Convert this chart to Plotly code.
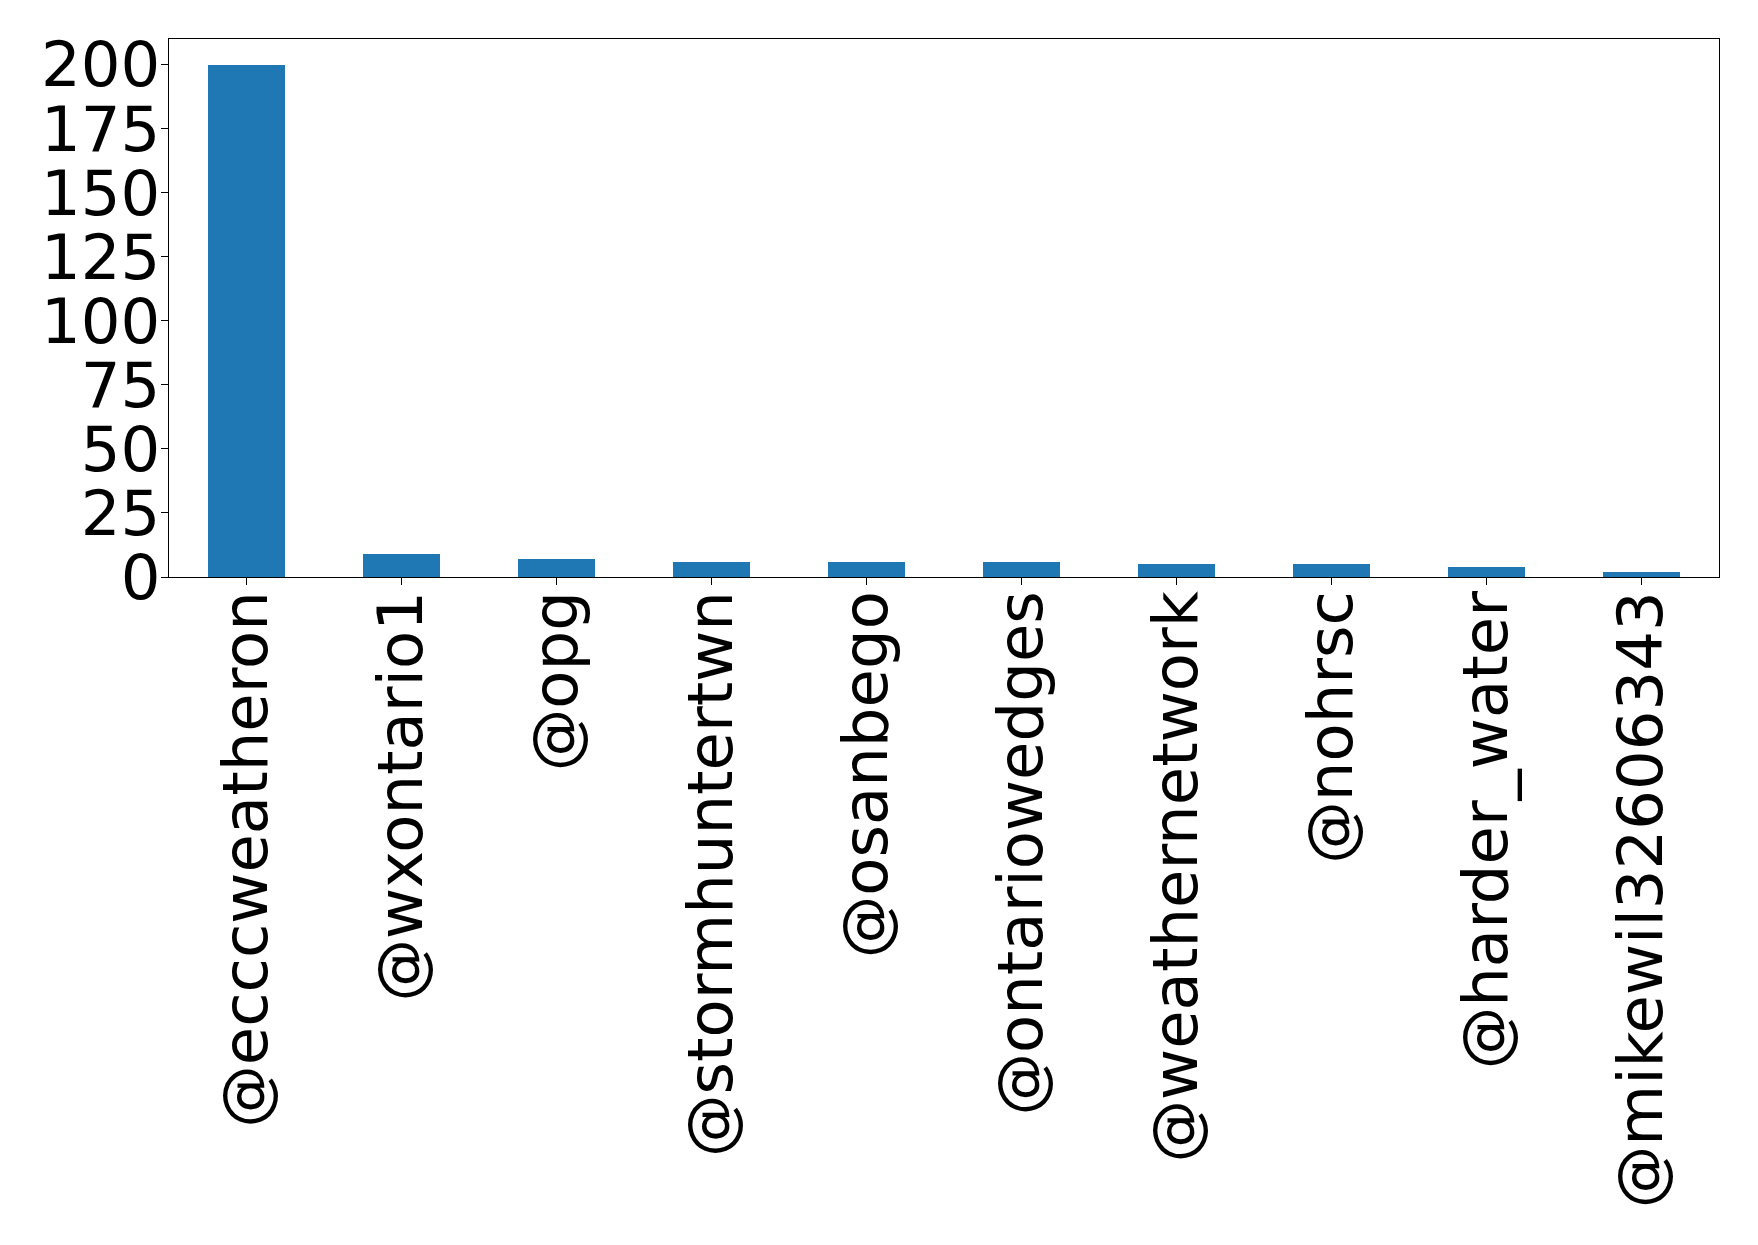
import plotly.graph_objects as go

users = ["@ecccweatheron", "@wxontario1", "@opg", "@stormhuntertwn", "@osanbego",
         "@ontariowedges", "@weathernetwork", "@nohrsc", "@harder_water", "@mikewil32606343"]
counts = [200, 9, 7, 6, 6, 6, 5, 5, 4, 2]
y_ticks = [0, 25, 50, 75, 100, 125, 150, 175, 200]

fig = go.Figure(go.Bar(x=users, y=counts, width=0.5, marker=dict(color="#1f77b4", line=dict(width=0))))

fig.update_layout(
    width=1758, height=1245,
    margin=dict(l=161, r=47, t=31, b=676, autoexpand=False),
    plot_bgcolor="white", paper_bgcolor="white",
    font=dict(family="DejaVu Sans", size=62.5, color="black"),
    showlegend=False,
    bargap=0,
)
fig.update_xaxes(
    range=[-0.5, 9.5], tickangle=-90, showline=True, linecolor="black", linewidth=1.2,
    mirror=True, ticks="outside", ticklen=7, tickcolor="black", showgrid=False,
    ticklabelstandoff=-19, automargin=False,
)
fig.update_yaxes(
    range=[0, 210], tickvals=y_ticks, showline=True, linecolor="black", linewidth=1.2,
    mirror=True, ticks="outside", ticklen=7, tickcolor="black", showgrid=False, zeroline=False,
    ticklabelstandoff=-12, automargin=False,
)
fig.write_html("out.html")
